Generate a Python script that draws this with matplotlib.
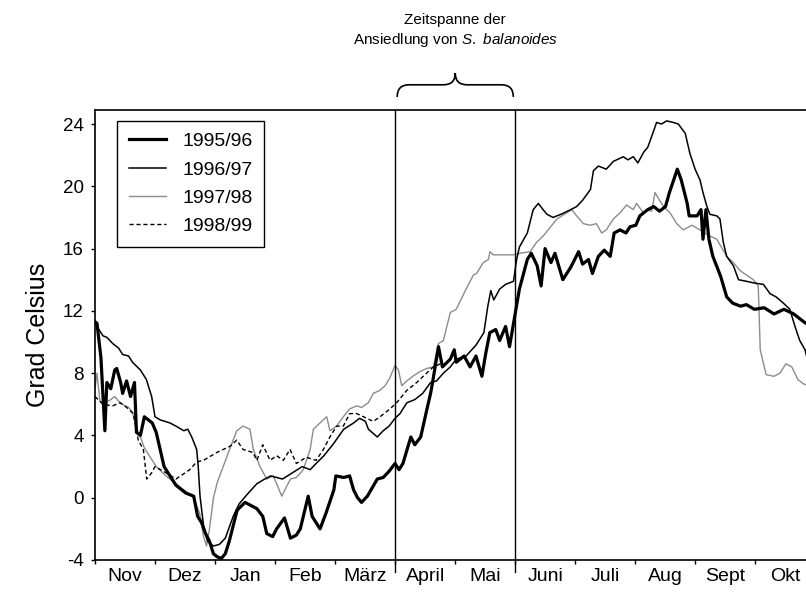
import matplotlib
matplotlib.use("Agg")
import matplotlib.pyplot as plt
import numpy as np
from matplotlib.path import Path
from matplotlib.patches import PathPatch
import matplotlib.transforms as mtransforms

plt.rcParams['font.family'] = 'Liberation Sans'
plt.rcParams['mathtext.fontset'] = 'custom'
plt.rcParams['mathtext.rm'] = 'Liberation Sans'
plt.rcParams['mathtext.it'] = 'Liberation Sans:italic'
plt.rcParams['axes.unicode_minus'] = False

# water temperature, day 0 = 1 November of each season
day_9596 = [0, 1, 3, 5, 6, 8, 10, 11, 13, 14, 16, 18, 20, 21, 23, 25, 27, 29, 31, 33, 35, 38, 41, 46, 50,
            52, 54, 56, 58, 60, 62, 64, 66, 68, 70, 72, 76, 79, 82, 85, 87, 90, 92, 96, 99, 102, 104, 108,
            110, 114, 117, 121, 122, 126, 129, 131, 133, 135, 138, 143, 146, 149, 152, 154, 156, 160, 162,
            165, 168, 170, 171, 174, 176, 180, 182, 183, 187, 190, 193, 196, 198, 200, 203, 205, 208, 210,
            213, 215, 219, 221, 224, 226, 228, 231, 233, 237, 241, 245, 247, 250, 252, 255, 258, 261, 263,
            266, 269, 271, 274, 276, 280, 283, 286, 289, 291, 295, 297, 300, 301, 305, 307, 308, 309.5, 311,
            313, 317, 320, 323, 327, 330, 334, 339, 344, 349, 354, 359, 365]
temp_9596 = [11.3, 11.2, 9.0, 4.3, 7.4, 7.0, 8.2, 8.3, 7.4, 6.7, 7.5, 6.5, 7.4, 4.2, 4.0, 5.2, 5.0, 4.8, 4.2,
             3.1, 2.0, 1.4, 0.8, 0.3, 0.1, -1.2, -1.6, -2.3, -2.8, -3.6, -3.8, -3.9, -3.6, -2.8, -1.8, -0.8,
             -0.3, -0.5, -0.7, -1.2, -2.3, -2.5, -2.0, -1.3, -2.6, -2.4, -2.0, 0.1, -1.2, -2.0, -1.0, 0.5,
             1.4, 1.3, 1.4, 0.5, 0.0, -0.3, 0.1, 1.2, 1.3, 1.7, 2.2, 1.8, 2.2, 3.9, 3.4, 3.9, 5.6, 6.7, 7.4,
             9.7, 8.4, 8.9, 9.5, 8.7, 9.1, 8.4, 9.1, 7.8, 9.3, 10.6, 10.8, 10.1, 11.0, 9.7, 11.9, 13.4, 15.3,
             15.7, 14.9, 13.6, 16.0, 15.1, 15.7, 14.0, 14.8, 15.8, 15.0, 15.3, 14.4, 15.5, 15.9, 15.5, 17.0,
             17.2, 17.0, 17.4, 17.5, 18.1, 18.5, 18.7, 18.4, 18.7, 19.6, 21.1, 20.4, 18.9, 18.1, 18.1, 18.5,
             16.6, 18.5, 16.6, 15.5, 14.2, 12.9, 12.5, 12.3, 12.4, 12.1, 12.2, 11.8, 12.1, 11.8, 11.3, 10.8]

day_9697 = [0, 1, 4, 6, 9, 12, 14, 17, 19, 23, 26, 28.7, 30.4, 33, 38, 41, 45, 47, 49, 51.5, 52.3, 53.2, 55,
            57, 60, 63, 66, 70, 73, 77, 82, 86, 89, 95, 100, 105, 109, 112, 116, 121, 126, 131, 134, 137,
            138.5, 143, 146, 149, 152, 154.5, 158, 162, 166, 170, 173, 176.5, 180, 183, 188, 193, 197, 199,
            200.5, 202, 205, 208, 212, 213.6, 215, 219, 222, 224.6, 227, 229, 232, 236, 241, 244, 247, 251,
            252.5, 255, 259, 262.6, 267.6, 270, 272.7, 275, 278, 280, 282, 284.5, 287, 289.6, 293, 295.5,
            299, 301.4, 304, 306.5, 308, 310, 311.5, 315, 316.6, 318.3, 320, 323.4, 326, 330, 333.5, 338.6,
            342, 345, 348.7, 352, 354.6, 357, 359.7, 362]
temp_9697 = [11.3, 11.0, 10.4, 10.3, 9.9, 9.6, 9.2, 9.1, 8.7, 8.2, 7.6, 6.5, 5.2, 5.0, 4.8, 4.6, 4.3, 4.4,
             3.9, 3.1, 2.0, 0.1, -1.8, -2.8, -3.1, -3.0, -2.6, -1.2, -0.4, 0.2, 0.9, 1.2, 1.4, 1.2, 1.6, 2.0,
             1.8, 2.2, 2.7, 3.5, 4.4, 4.8, 5.1, 4.9, 4.4, 3.9, 4.3, 4.6, 5.1, 5.4, 6.1, 6.3, 6.7, 7.4, 7.5,
             8.0, 8.4, 8.9, 9.1, 9.8, 10.6, 12.3, 13.3, 12.7, 13.4, 13.7, 13.9, 15.3, 16.1, 17.0, 18.5, 18.9,
             18.5, 18.2, 18.0, 18.2, 18.5, 18.7, 19.1, 19.8, 21.0, 21.3, 21.1, 21.6, 21.9, 21.7, 21.9, 21.5,
             22.2, 22.5, 23.2, 24.1, 24.0, 24.2, 24.1, 24.0, 23.4, 22.1, 21.1, 20.4, 19.6, 18.7, 18.2, 18.1,
             17.9, 16.4, 15.5, 14.9, 14.0, 13.9, 13.8, 13.7, 13.1, 12.9, 12.5, 12.1, 11.0, 10.1, 9.5, 8.3]

day_9798 = [0, 1, 2.5, 5, 8, 10, 12, 14, 17, 19, 21, 23, 25, 28, 31, 36, 41, 46, 50, 53, 55, 56.5, 58, 60,
            62, 66.7, 71.8, 75, 78.5, 80.2, 83.6, 87, 90.3, 92, 94.6, 97, 99, 102, 105.5, 109, 110.6, 114,
            117.4, 119, 122.4, 125.8, 129, 132.6, 135, 138.5, 141, 144.4, 147, 149.4, 152, 153.7, 155.4,
            158, 161, 164.6, 168, 171.4, 174, 176.5, 180, 183, 188, 191.7, 193.3, 196.7, 199.3, 200.1,
            201.8, 205, 208.5, 212, 215.3, 220.4, 223.7, 227, 234, 239, 241.5, 244, 247.4, 250.8, 254,
            256.7, 259, 262.6, 266, 269.3, 272.7, 274.4, 277.8, 279.5, 282, 283.7, 286, 288, 291.3, 294.7,
            298, 302.3, 306.5, 311.5, 315, 320, 323.4, 326.7, 330, 333.5, 336, 337, 340, 344, 347, 350,
            353, 356, 359, 362]
temp_9798 = [7.0, 8.0, 6.2, 6.1, 6.3, 6.5, 6.2, 6.0, 5.8, 5.5, 4.5, 3.9, 3.2, 2.6, 2.0, 1.4, 0.9, 0.4, 0.0,
             -1.0, -2.5, -3.1, -2.0, 0.0, 1.0, 2.6, 4.3, 4.6, 4.4, 3.1, 2.0, 1.2, 1.4, 0.9, 0.1, 0.7, 1.2,
             1.3, 1.8, 3.1, 4.4, 4.8, 5.2, 4.3, 4.6, 5.2, 5.7, 5.9, 5.8, 6.1, 6.7, 6.9, 7.2, 7.7, 8.5, 8.2,
             7.2, 7.5, 7.8, 8.1, 8.3, 8.4, 9.9, 10.1, 11.9, 12.1, 13.4, 14.3, 14.4, 15.1, 15.3, 15.8, 15.6,
             15.6, 15.6, 15.6, 15.7, 15.8, 16.4, 16.8, 17.9, 18.3, 18.5, 18.1, 17.6, 17.5, 17.6, 17.0, 17.2,
             17.9, 18.3, 18.8, 18.5, 18.9, 18.3, 18.5, 18.4, 19.6, 19.1, 18.7, 18.3, 17.6, 17.2, 17.5, 17.2,
             16.8, 16.6, 15.5, 15.1, 14.6, 14.3, 14.0, 13.6, 9.5, 7.9, 7.8, 8.0, 8.6, 8.4, 7.6, 7.3, 7.2]

day_9899 = [0, 4, 9, 12.7, 16, 19.4, 21.9, 24.5, 26.2, 28.7, 30.4, 36, 41, 48, 51.5, 55, 61.6, 68.4, 71.8,
            75, 80, 82, 85, 88.7, 92, 95.4, 98.8, 102, 107, 112, 115.7, 119, 122.4, 125.8, 129, 132.6,
            136, 141, 144.4, 149.4, 152.8, 158, 163, 166.3, 171.4, 175]
temp_9899 = [6.5, 6.0, 5.9, 6.1, 5.8, 5.4, 3.7, 3.1, 1.2, 1.6, 2.0, 1.6, 1.2, 1.8, 2.3, 2.4, 2.9, 3.3, 3.7,
             3.1, 2.9, 2.4, 3.4, 2.4, 2.7, 2.4, 3.1, 2.2, 2.6, 2.4, 3.1, 3.9, 4.6, 4.6, 5.4, 5.4, 5.2, 4.9,
             5.2, 5.7, 6.1, 6.9, 7.4, 7.8, 8.4, 8.6]

months = ["Nov", "Dez", "Jan", "Feb", "März", "April", "Mai", "Juni", "Juli", "Aug", "Sept", "Okt"]
month_len = 365 / 12
settle_months = (5, 7)   # April .. end of Mai

fig = plt.figure(figsize=(8.06, 5.93), dpi=100)
ax = fig.add_axes([95 / 806, 33 / 593, 720.5 / 806, 450 / 593])

l98, = ax.plot(day_9798, temp_9798, color='#8c8c8c', lw=1.0, zorder=2, label='1997/98')
l99, = ax.plot(day_9899, temp_9899, color='black', lw=1.0, ls=(0, (3, 2)), zorder=3, label='1998/99')
l97, = ax.plot(day_9697, temp_9697, color='black', lw=1.1, zorder=4, label='1996/97')
l96, = ax.plot(day_9596, temp_9596, color='black', lw=2.3, zorder=5, label='1995/96')

ax.set_xlim(0, 365)
ax.set_ylim(-4, 24.9)
ax.spines['right'].set_visible(False)
for s in ('left', 'bottom', 'top'):
    ax.spines[s].set_linewidth(1.2)

ax.set_yticks(np.arange(-4, 25, 4))
ax.tick_params(axis='y', direction='out', length=3, width=1, labelsize=13.5, pad=5)
ax.set_xticks(np.arange(12) * month_len)
ax.set_xticks((np.arange(12) + 0.5) * month_len, minor=True)
ax.set_xticklabels([])
ax.set_xticklabels(months, minor=True)
ax.tick_params(axis='x', which='major', direction='out', length=3, width=1)
ax.tick_params(axis='x', which='minor', length=0, labelsize=14, pad=6)

ax.set_ylabel("Grad Celsius", fontsize=18)
ax.yaxis.set_label_coords(-0.0625, 0.5)

# settlement window of S. balanoides
x0, x1 = settle_months[0] * month_len, settle_months[1] * month_len
for xv in (x0, x1):
    ax.axvline(xv, ymin=-0.027, ymax=1, color='black', lw=1.0, clip_on=False, zorder=6)

trans = mtransforms.blended_transform_factory(ax.transData, ax.transAxes)
xm = (x0 + x1) / 2
r = 6
ye, ya, yc = 1.029, 1.056, 1.082
verts = [(x0 + 1, ye), (x0 + 1, ya), (x0 + 1 + r, ya), (xm - r, ya), (xm, ya), (xm, yc),
         (xm, ya), (xm + r, ya), (x1 - 1 - r, ya), (x1 - 1, ya), (x1 - 1, ye)]
codes = [Path.MOVETO, Path.CURVE3, Path.CURVE3, Path.LINETO, Path.CURVE3, Path.CURVE3,
         Path.CURVE3, Path.CURVE3, Path.LINETO, Path.CURVE3, Path.CURVE3]
brace = PathPatch(Path(verts, codes), transform=trans, fill=False, lw=1.2,
                  edgecolor='black', clip_on=False)
ax.add_patch(brace)
ax.text(xm, 1.2, "Zeitspanne der", transform=trans, ha='center', va='center', fontsize=11)
ax.text(xm, 1.156, r"Ansiedlung von $\mathit{S.\ balanoides}$", transform=trans,
        ha='center', va='center', fontsize=11)

leg = ax.legend(handles=[l96, l97, l98, l99], loc='upper left', bbox_to_anchor=(0.0305, 0.9756),
                borderaxespad=0, fontsize=14, frameon=True, fancybox=False, framealpha=1,
                edgecolor='black', handlelength=1.9, handletextpad=0.85, borderpad=0.6,
                labelspacing=0.55)
leg.get_frame().set_linewidth(1.0)

fig.savefig("out.png", dpi=100)
